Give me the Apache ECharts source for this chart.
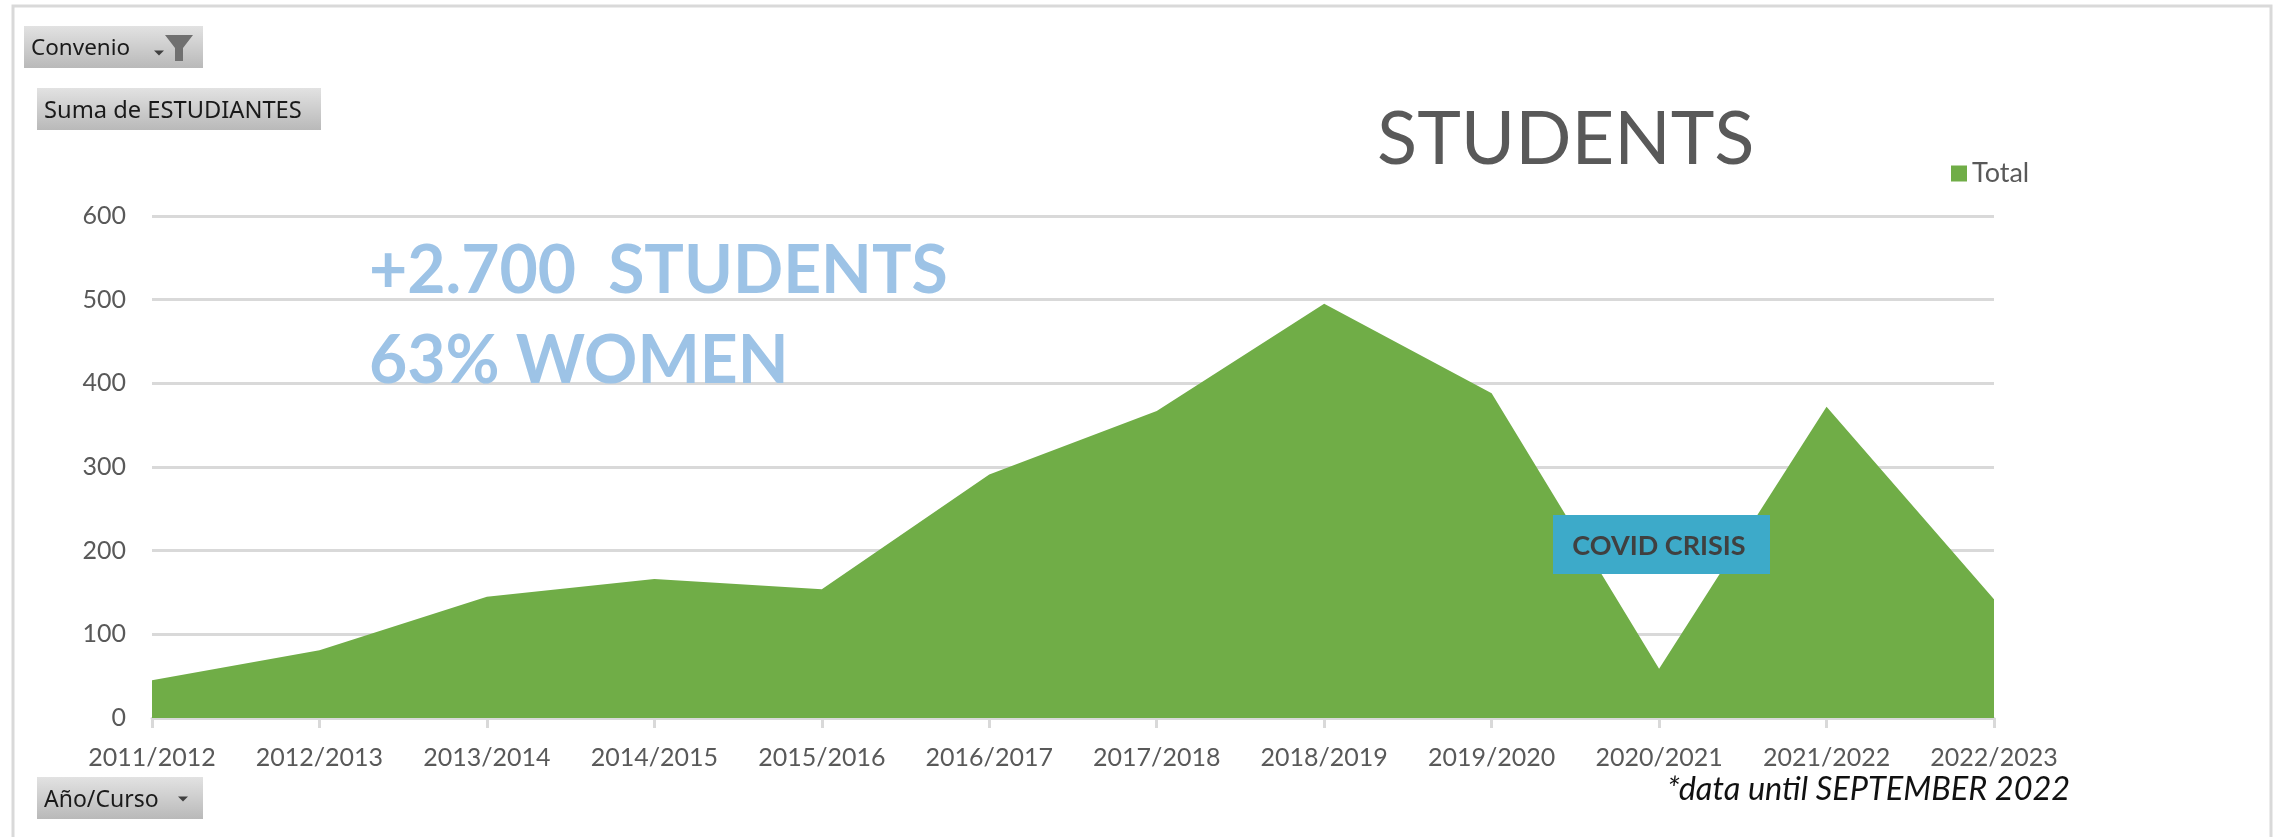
<!DOCTYPE html>
<html><head><meta charset="utf-8">
<style>html,body{margin:0;padding:0;background:#fff}#c{width:2275px;height:837px}</style>
<script src="https://cdn.jsdelivr.net/npm/echarts@6/dist/echarts.min.js"></script>
</head><body><div id="c"></div>
<script>
const categories = ['2011/2012','2012/2013','2013/2014','2014/2015','2015/2016','2016/2017','2017/2018','2018/2019','2019/2020','2020/2021','2021/2022','2022/2023'];
const totals = [45,81,145,166,154,291,367,495,388,59,372,142];
const yTicks = {min:0,max:600,interval:100};
const seriesName = 'Total';
const titleText = 'STUDENTS';
const bigLines = ['+2.700  STUDENTS','63% WOMEN'];
const covidText = 'COVID CRISIS';
const footnote = '*data until SEPTEMBER 2022';
const GREEN = '#70ad47', GRID = '#d9d9d9', GREY = '#595959';
const F = 'Lato, Carlito, sans-serif', BF = '"Noto Sans", Tahoma, sans-serif';
const btnFill = {type:'linear',x:0,y:0,x2:0,y2:1,colorStops:[{offset:0,color:'#e2e2e2'},{offset:1,color:'#b9b9b9'}]};
function button(x,y,w,h,label,size){
  return [
    {type:'rect',shape:{x,y,width:w,height:h},style:{fill:btnFill},z:5},
    {type:'text',x:x+7,y:y+h/2+2,style:{text:label,fill:'#1a1a1a',font:size+'px '+BF,textAlign:'left',textVerticalAlign:'middle'},z:6}
  ];
}
function tri(cx,cy,s){return {type:'polygon',shape:{points:[[cx-s,cy-s/2],[cx+s,cy-s/2],[cx,cy+s/2]]},style:{fill:'#404040'},z:6};}
const chart = echarts.init(document.getElementById('c'),null,{renderer:'canvas'});
chart.setOption({
  animation:false,
  backgroundColor:'#fff',
  grid:{left:152,right:281,top:216,bottom:119,containLabel:false},
  legend:{show:true,left:1951,top:160,itemWidth:16,itemHeight:16,itemGap:6,icon:'rect',
    data:[seriesName],textStyle:{color:GREY,fontSize:27,fontFamily:F,padding:[0,0,0,0]},padding:0},
  title:{show:true,text:titleText,left:1377,top:103,padding:0,
    textStyle:{color:GREY,fontSize:74,fontWeight:'normal',fontFamily:F}},
  xAxis:{type:'category',data:categories,boundaryGap:false,
    axisLine:{lineStyle:{color:GRID,width:3}},
    axisTick:{show:true,length:10,lineStyle:{color:GRID,width:3},alignWithLabel:true},
    axisLabel:{color:GREY,fontSize:25,fontFamily:F,margin:27,interval:0,showMinLabel:true,showMaxLabel:true,hideOverlap:false},
    splitLine:{show:false}},
  yAxis:{type:'value',min:yTicks.min,max:yTicks.max,interval:yTicks.interval,
    axisLine:{show:false},axisTick:{show:false},
    axisLabel:{color:GREY,fontSize:25,fontFamily:F,margin:26},
    splitLine:{show:true,lineStyle:{color:GRID,width:3}}},
  series:[{name:seriesName,type:'line',data:totals,symbol:'none',showSymbol:false,smooth:false,
    lineStyle:{width:0,color:GREEN},itemStyle:{color:GREEN},areaStyle:{color:GREEN,opacity:1},z:3}],
  graphic:{elements:[
    {type:'rect',shape:{x:13,y:6,width:2258,height:900},style:{fill:'none',stroke:GRID,lineWidth:3},z:0,silent:true},
    ...button(24,26,179,42,'Convenio',22.5),
    tri(159,53,5),
    {type:'polygon',shape:{points:[[165,35],[193,35],[183,48],[183,61],[175,61],[175,48]]},style:{fill:'#707070'},z:6},
    ...button(37,88,284,42,'Suma de ESTUDIANTES',23.7),
    ...button(37,777,166,42,'Año/Curso',23),
    tri(183,799,5),
    {type:'text',x:369,y:272,style:{text:bigLines[0],fill:'#9dc3e6',font:'bold 66px '+F,textAlign:'left',textVerticalAlign:'middle'},z:7},
    {type:'text',x:369,y:362,style:{text:bigLines[1],fill:'#9dc3e6',font:'bold 66px '+F,textAlign:'left',textVerticalAlign:'middle'},z:7},
    {type:'rect',shape:{x:1553,y:515,width:217,height:59},style:{fill:'#3daac9'},z:8},
    {type:'text',x:1659,y:546,style:{text:covidText,fill:'#404040',font:'bold 27px '+F,textAlign:'center',textVerticalAlign:'middle'},z:9},
    {type:'text',x:1667,y:790,style:{text:footnote,fill:'#111',font:'italic 32.5px '+F,textAlign:'left',textVerticalAlign:'middle'},z:9}
  ]}
});
</script></body></html>
